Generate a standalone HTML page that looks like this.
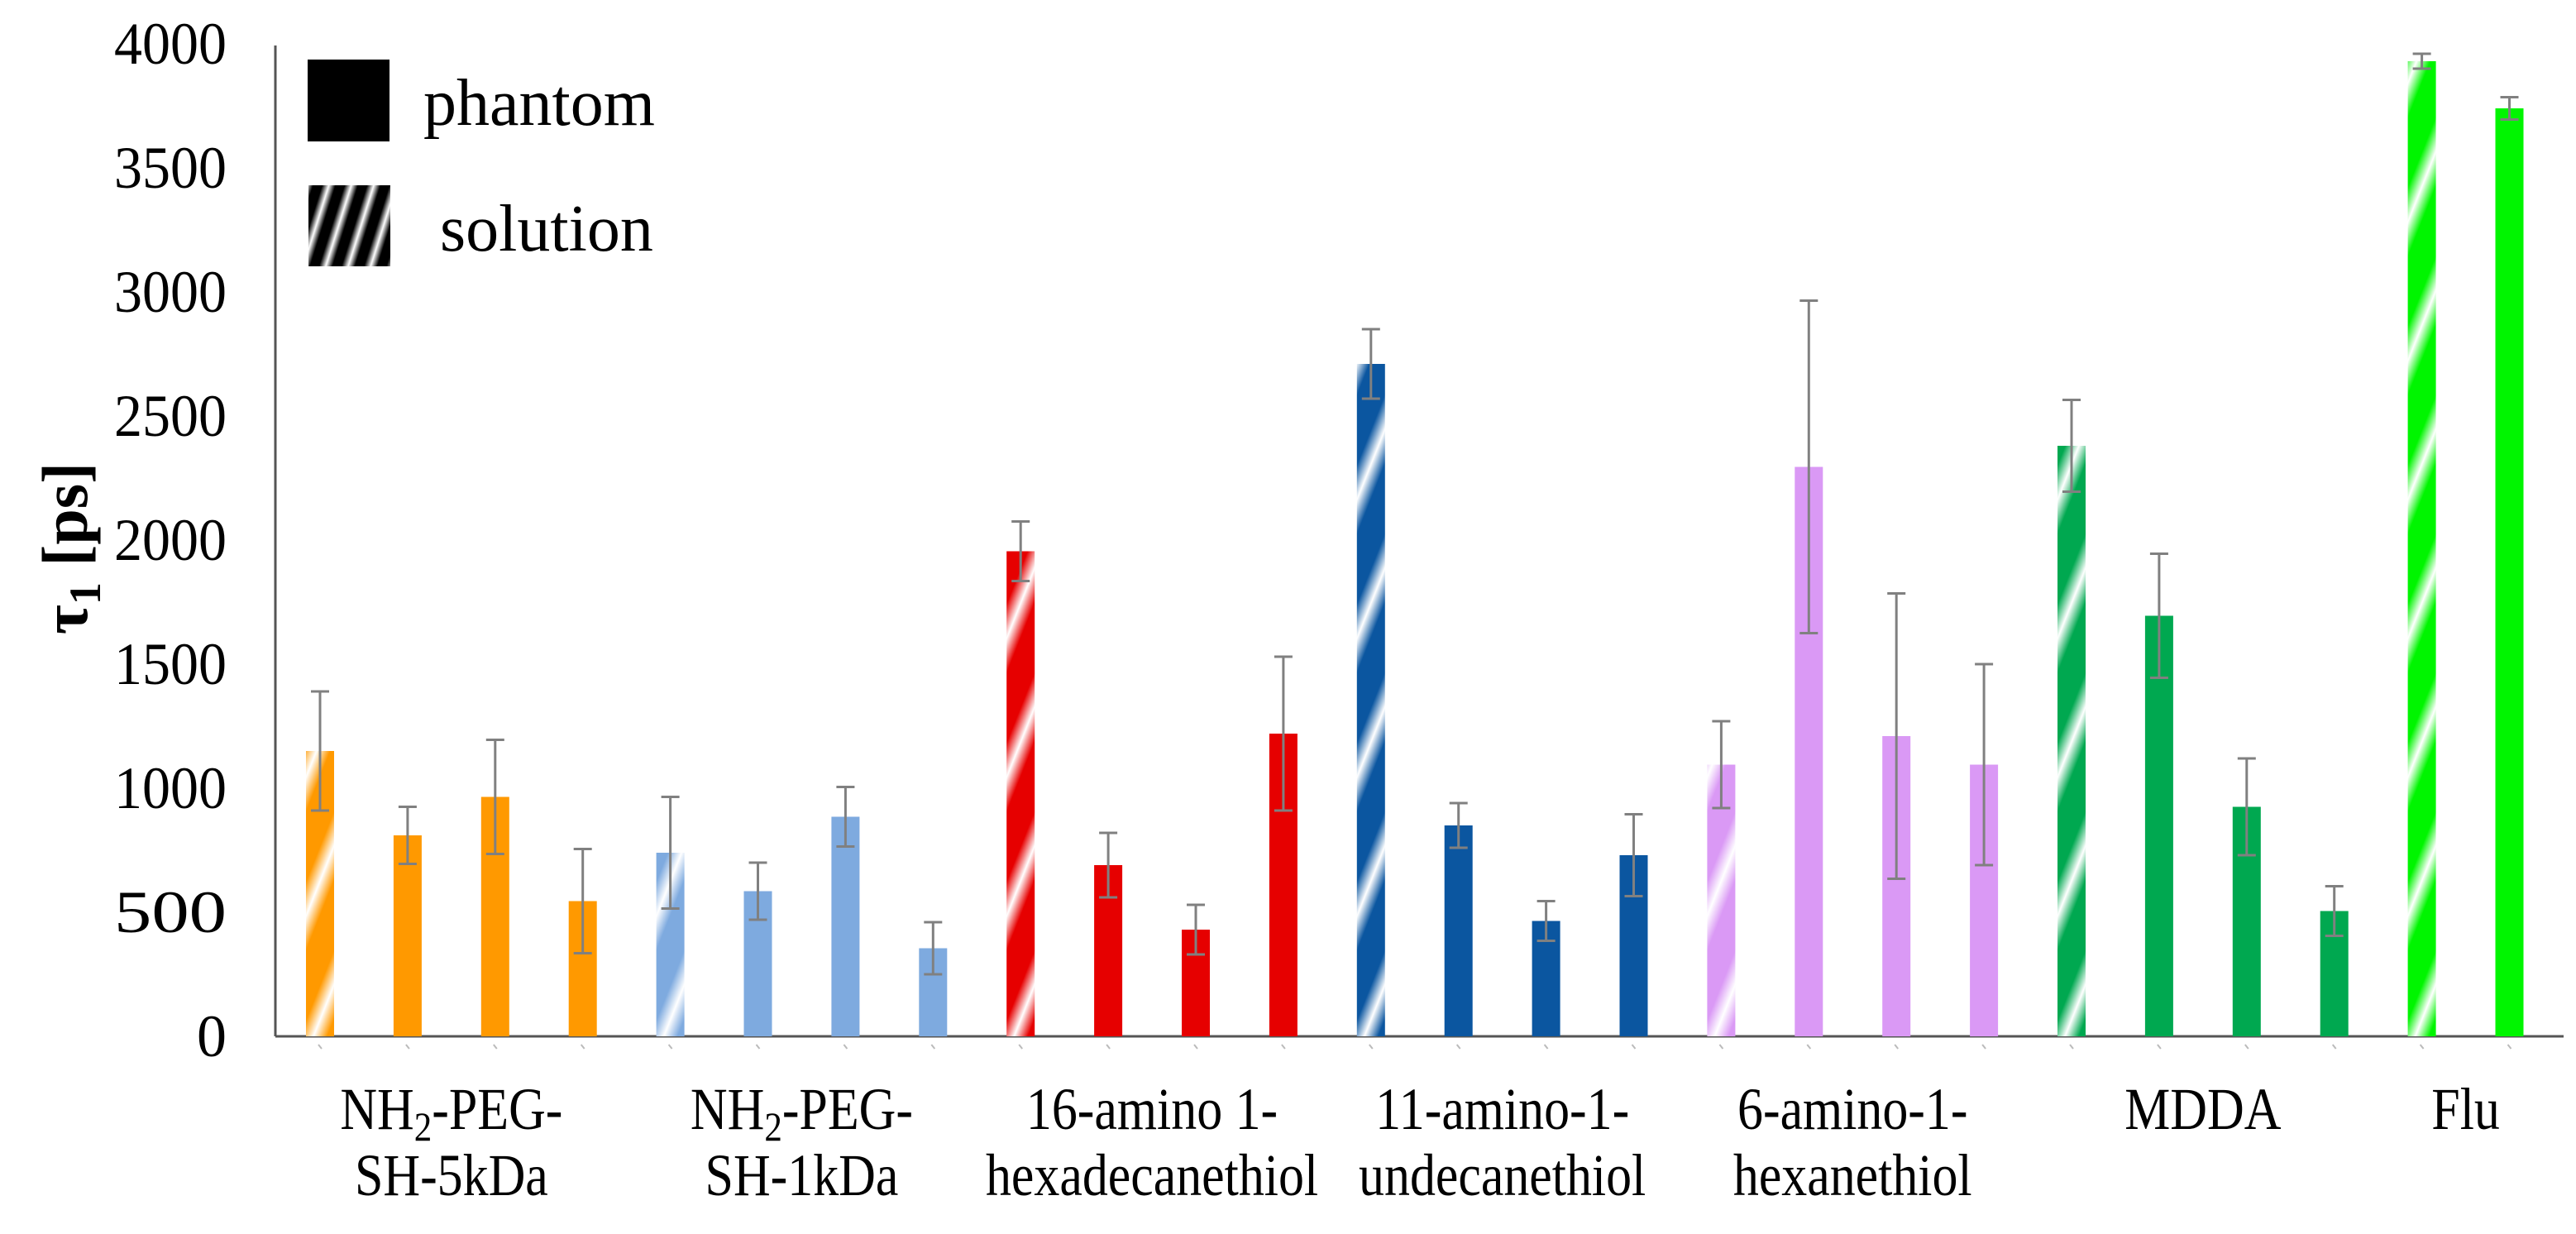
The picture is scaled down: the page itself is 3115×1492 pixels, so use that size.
<!DOCTYPE html>
<html><head><meta charset="utf-8"><style>
html,body{margin:0;padding:0;background:#fff;}
svg{display:block;}
svg text{font-family:"Liberation Serif","Times New Roman",serif;}
</style></head><body>
<svg id="chart" width="3115" height="1492" viewBox="0 0 3115 1492" xmlns="http://www.w3.org/2000/svg" font-family="Liberation Serif, serif">
<defs id="defs"></defs>
<g id="axes"></g>
<g id="bars"></g>
<g id="legend"></g>
</svg>
<script>
const groupLabels = [["NH\u2082-PEG-","SH-5kDa"],["NH\u2082-PEG-","SH-1kDa"],["16-amino 1-","hexadecanethiol"],["11-amino-1-","undecanethiol"],["6-amino-1-","hexanethiol"],["MDDA"],["Flu"]];
const groupSizes = [4,4,4,4,4,4,2];
const groupColors = ["#FF9900","#7EAADF","#E60000","#0B56A0","#DA99F5","#00A850","#00F500"];
const values = [1150,810,965,545, 740,585,885,355, 1955,690,430,1220, 2710,850,465,730, 1095,2295,1210,1095, 2380,1695,925,505, 3930,3740];
const errors = [240,115,230,210, 225,115,120,105, 120,130,100,310, 140,90,80,165, 175,670,575,405, 185,250,195,100, 30,45];
const solution = [1,0,0,0, 1,0,0,0, 1,0,0,0, 1,0,0,0, 1,0,0,0, 1,0,0,0, 1,0];
const yTicks = [0,500,1000,1500,2000,2500,3000,3500,4000];

const NS="http://www.w3.org/2000/svg";
const X0=387, STEP=105.9, BW=34, Y0=1253, YSCALE=0.3, AXL=333, AXR=3100;
const FONT='"Liberation Serif","Times New Roman",serif';
const xScale = i => X0 + i*STEP;
const yScale = v => Y0 - v*YSCALE;
function mk(tag, attrs, parent){const e=document.createElementNS(NS,tag);for(const k in attrs)e.setAttribute(k,attrs[k]);parent.appendChild(e);return e;}
const defs=document.getElementById('defs'), axes=document.getElementById('axes'), bars=document.getElementById('bars'), legend=document.getElementById('legend');

function stripeGrad(id,color,x,period){
  const g=mk('linearGradient',{id:id,gradientUnits:'userSpaceOnUse',spreadMethod:'repeat',x1:x,y1:0,x2:x+period*0.93,y2:period*0.37},defs);
  [[0,color],[0.35,color],[0.6,'#ffffff'],[0.85,color],[1,color]].forEach(s=>mk('stop',{offset:s[0],'stop-color':s[1]},g));
}

// axes
mk('line',{x1:AXL,y1:55,x2:AXL,y2:Y0,stroke:'#555',"stroke-width":3},axes);
mk('line',{x1:AXL,y1:Y0,x2:AXR,y2:Y0,stroke:'#555',"stroke-width":3},axes);
yTicks.forEach(t=>{
  const tx=mk('text',{x:274,y:yScale(t)+24,'text-anchor':'end','font-size':72,fill:'#000','font-family':FONT,textLength:136,lengthAdjust:'spacingAndGlyphs'},axes);
  if(t===0){tx.removeAttribute('textLength');tx.removeAttribute('lengthAdjust');}
  
  
  tx.textContent=t;
});
const yt=mk('text',{transform:'translate(105,663) rotate(-90)','text-anchor':'middle','font-size':78,'font-weight':'bold',fill:'#000','font-family':FONT},axes);


yt.innerHTML='\u03c4<tspan font-size="54" dy="16">1</tspan><tspan dy="-16"> [ps]</tspan>';

// bars
let idx=0;
groupSizes.forEach((n,g)=>{
  const color=groupColors[g];
  for(let k=0;k<n;k++){
    const i=idx, cx=xScale(i), v=values[i], e=errors[i];
    let fill=color;
    if(solution[i]){const id='sg'+i;stripeGrad(id,color,cx-BW/2,62);fill='url(#'+id+')';}
    const r=mk('rect',{x:cx-BW/2,y:yScale(v),width:BW,height:Y0-yScale(v),fill:fill},bars);
    
    
    const eb=mk('path',{d:`M${cx} ${yScale(v+e)}V${yScale(v-e)}M${cx-11} ${yScale(v+e)}h22M${cx-11} ${yScale(v-e)}h22`,stroke:'#808080','stroke-width':3,fill:'none'},bars);
    
    
    const tk=mk('line',{x1:cx-2,y1:1263,x2:cx+2,y2:1268,stroke:'#bbb','stroke-width':2},axes);
    
    
    idx++;
  }
  const cxg=(xScale(idx-n)+xScale(idx-1))/2;
  groupLabels[g].forEach((line,li)=>{
    const gT=mk('g',{transform:`translate(${cxg},${1365+li*80}) scale(0.86,1)`},axes);
    const t=mk('text',{x:0,y:0,'text-anchor':'middle','font-size':72,fill:'#000','font-family':FONT},gT);
    
    
    if(line.indexOf('\u2082')>=0){t.innerHTML='NH<tspan font-size="50" dy="14">2</tspan><tspan dy="-14">-PEG-</tspan>';}
    else t.textContent=line;
  });
});

// legend
const lp=mk('rect',{x:372,y:72,width:99,height:99,fill:'#000'},legend);


const lg=mk('linearGradient',{id:'lgs',gradientUnits:'userSpaceOnUse',spreadMethod:'repeat',x1:372,y1:0,x2:372+26*0.95,y2:26*0.3},defs);
[[0,'#000'],[0.25,'#000'],[0.55,'#fff'],[0.85,'#000'],[1,'#000']].forEach(s=>mk('stop',{offset:s[0],'stop-color':s[1]},lg));
const ls=mk('rect',{x:373,y:224,width:99,height:98,fill:'url(#lgs)'},legend);


const t1=mk('text',{x:512,y:151,'font-size':80,fill:'#000','font-family':FONT},legend);


t1.textContent='phantom';
const t2=mk('text',{x:532,y:303,'font-size':80,fill:'#000','font-family':FONT},legend);


t2.textContent='solution';
</script>
</body></html>
